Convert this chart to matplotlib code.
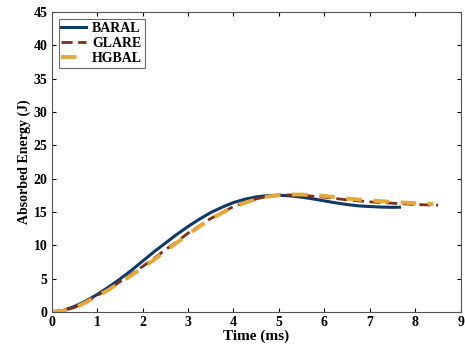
import matplotlib
matplotlib.use("Agg")
import matplotlib.pyplot as plt

plt.rcParams['font.family'] = ['Liberation Serif', 'DejaVu Serif']
plt.rcParams['font.weight'] = 'bold'

t_baral = [0, 0.25, 0.5, 0.75, 1, 1.25, 1.5, 1.75, 2, 2.25, 2.5, 2.75, 3, 3.25, 3.5, 3.75,
           4, 4.25, 4.5, 4.75, 5, 5.25, 5.5, 5.75, 6, 6.25, 6.5, 6.75, 7, 7.25, 7.5, 7.65]
e_baral = [0, 0.2, 0.8, 1.6, 2.6, 3.7, 4.9, 6.2, 7.6, 9.0, 10.3, 11.6, 12.8, 13.9, 14.9, 15.7,
           16.4, 16.9, 17.25, 17.45, 17.5, 17.4, 17.2, 16.95, 16.65, 16.35, 16.1, 15.9, 15.8, 15.72, 15.68, 15.7]

t_glare = [0, 0.25, 0.5, 0.75, 1, 1.25, 1.5, 1.75, 2, 2.25, 2.5, 2.75, 3, 3.25, 3.5, 3.75,
           4, 4.25, 4.5, 4.75, 5, 5.25, 5.5, 5.75, 6, 6.25, 6.5, 6.75, 7, 7.25, 7.5, 7.75, 8, 8.25, 8.5]
e_glare = [0, 0.15, 0.65, 1.45, 2.45, 3.4, 4.5, 5.6, 6.8, 8.0, 9.3, 10.5, 11.8, 12.9, 14.0, 14.9,
           15.8, 16.4, 16.95, 17.3, 17.5, 17.55, 17.5, 17.35, 17.2, 17.0, 16.8, 16.65, 16.5, 16.4, 16.3, 16.2, 16.1, 16.05, 16.0]

t_hgbal = [0, 0.25, 0.5, 0.75, 1, 1.25, 1.5, 1.75, 2, 2.25, 2.5, 2.75, 3, 3.25, 3.5, 3.75,
           4, 4.25, 4.5, 4.75, 5, 5.25, 5.5, 5.75, 6, 6.25, 6.5, 6.75, 7, 7.25, 7.5, 7.75, 8, 8.25, 8.4]
e_hgbal = [0, 0.15, 0.6, 1.4, 2.35, 3.3, 4.35, 5.45, 6.6, 7.8, 9.1, 10.35, 11.6, 12.8, 13.9, 14.85,
           15.7, 16.35, 16.9, 17.3, 17.5, 17.6, 17.6, 17.5, 17.4, 17.2, 17.0, 16.85, 16.7, 16.6, 16.5, 16.4, 16.3, 16.25, 16.2]

fig = plt.figure(figsize=(4.65, 3.5), dpi=100)
ax = fig.add_axes([0.111, 0.109, 0.880, 0.857])

ax.plot(t_baral, e_baral, color='#0f3a68', lw=2.2, label='BARAL')
ax.plot(t_glare, e_glare, color='#7b3115', lw=2.0, dashes=(4, 2), label='GLARE')
ax.plot(t_hgbal, e_hgbal, color='#e5a83c', lw=2.8, dashes=(4, 3), label='HGBAL')

ax.set_xlim(0, 9)
ax.set_ylim(0, 45)
ax.set_xticks(range(0, 10))
ax.set_yticks(range(0, 46, 5))
ax.tick_params(direction='in', top=True, right=True, labelsize=10, length=3, pad=3)
for lab in ax.get_xticklabels() + ax.get_yticklabels():
    lab.set_fontweight('bold')
for s in ax.spines.values():
    s.set_color('#555555')
    s.set_linewidth(0.8)

ax.set_xlabel('Time (ms)', fontsize=11, fontweight='bold', labelpad=0)
ax.set_ylabel('Absorbed Energy (J)', fontsize=10, fontweight='bold', labelpad=2)

leg = ax.legend(loc='upper left', fontsize=10, frameon=True, fancybox=False,
                edgecolor='#444444', handlelength=1.8, handletextpad=0.4,
                borderpad=0.2, labelspacing=0.15, borderaxespad=0.5)
leg.get_frame().set_linewidth(0.8)
for txt in leg.get_texts():
    txt.set_fontweight('bold')

fig.savefig('out.png', dpi=100)
